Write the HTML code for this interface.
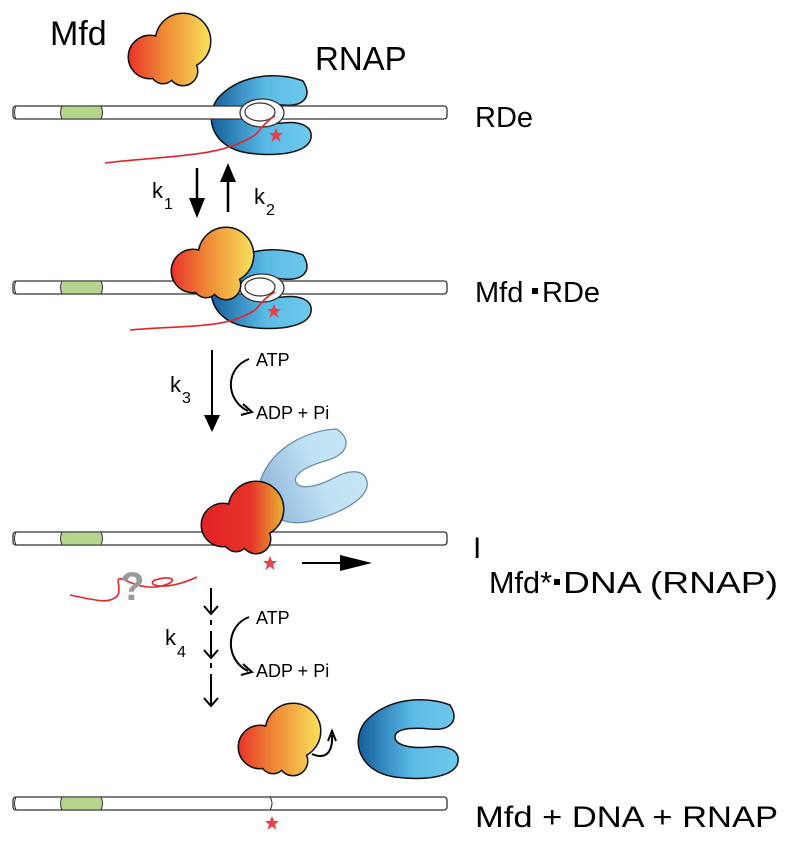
<!DOCTYPE html>
<html><head><meta charset="utf-8"><style>
body{margin:0;background:#fff}
svg{display:block}
text{font-family:"Liberation Sans",Arial,sans-serif;fill:#000}
</style></head><body>
<svg width="800" height="845" viewBox="0 0 800 845" xmlns="http://www.w3.org/2000/svg">
<defs>
<linearGradient id="mfd" gradientUnits="userSpaceOnUse" x1="0" x2="82" y1="0" y2="0"><stop offset="0" stop-color="#e8322a"/><stop offset="0.45" stop-color="#ef8a36"/><stop offset="1" stop-color="#f9e05a"/></linearGradient>
<linearGradient id="mfdr" gradientUnits="userSpaceOnUse" x1="0" x2="82" y1="0" y2="0"><stop offset="0" stop-color="#e32224"/><stop offset="0.6" stop-color="#e5332a"/><stop offset="1" stop-color="#e8b030"/></linearGradient>
<linearGradient id="rnap" x1="0" x2="1"><stop offset="0" stop-color="#145f9c"/><stop offset="0.55" stop-color="#5bbbe6"/><stop offset="1" stop-color="#70c8ec"/></linearGradient>
<linearGradient id="rnapl" x1="0" x2="1"><stop offset="0" stop-color="#8fb6d8"/><stop offset="0.6" stop-color="#bfe2f4"/><stop offset="1" stop-color="#c6e6f6"/></linearGradient>
<g id="mfdc">
<circle cx="55" cy="28" r="27"/><circle cx="22" cy="44" r="21"/><circle cx="55" cy="58" r="14"/><circle cx="35" cy="58" r="12"/>
</g>
<path id="rnapp" d="M100 8 C80 0 40 -2 15 25 C0 45 10 75 45 80 C75 84 105 80 108 65 C110 52 95 48 80 50 C60 52 45 48 45 40 C45 32 60 30 80 32 C100 34 110 24 100 8 Z"/>
<g id="dna"><rect x="13" y="0" width="434" height="13" rx="3" fill="#fff" stroke="#333" stroke-width="1.3"/><path d="M62 0 Q59 6.5 62 13 L101 13 Q104 6.5 101 0 Z" fill="#b5d58c" stroke="#333" stroke-width="1"/><path d="M16 0 Q13 6.5 16 13" fill="none" stroke="#333"/></g>
<path id="star" d="M0 -7 L2 -2 L7 -2 L3 1.5 L4.5 7 L0 3.5 L-4.5 7 L-3 1.5 L-7 -2 L-2 -2 Z" fill="#e5424a"/>
<g id="mfdo"><use href="#mfdc" fill="url(#mfd)" stroke="#111" stroke-width="3"/><use href="#mfdc" fill="url(#mfd)"/></g>
<g id="mfdro"><use href="#mfdc" fill="url(#mfdr)" stroke="#111" stroke-width="3"/><use href="#mfdc" fill="url(#mfdr)"/></g>
</defs>

<!-- row 1 -->
<text x="50" y="45" font-size="34">Mfd</text>
<use href="#mfdo" transform="translate(128,13)"/>
<text x="315" y="70" font-size="33">RNAP</text>
<use href="#rnapp" transform="translate(203,73)" fill="url(#rnap)" stroke="#111" stroke-width="1.5"/>
<use href="#dna" transform="translate(0,106)"/>
<ellipse cx="262" cy="113" rx="22" ry="14" fill="#fff" stroke="#333" stroke-width="1.3"/>
<ellipse cx="260" cy="112" rx="15" ry="9" fill="#fff" stroke="#333" stroke-width="1.2"/>
<path d="M105 163 C170 155 220 158 255 135 C262 128 265 122 275 116" fill="none" stroke="#e5242a" stroke-width="1.6"/>
<use href="#star" transform="translate(276,135)"/>
<text x="475" y="127" font-size="29">RDe</text>

<line x1="197" y1="168" x2="197" y2="200" stroke="#000" stroke-width="2.5"/><path d="M189 198 L205 198 L197 218 Z"/>
<line x1="228" y1="212" x2="228" y2="180" stroke="#000" stroke-width="2.5"/><path d="M220 182 L236 182 L228 163 Z"/>
<text x="152" y="198" font-size="22">k</text><text x="164" y="209" font-size="16">1</text>
<text x="254" y="204" font-size="22">k</text><text x="266" y="215" font-size="16">2</text>

<!-- row 2 -->
<use href="#rnapp" transform="translate(203,247)" fill="url(#rnap)" stroke="#111" stroke-width="1.5"/>
<use href="#dna" transform="translate(0,281)"/>
<ellipse cx="262" cy="288" rx="22" ry="14" fill="#fff" stroke="#333" stroke-width="1.3"/>
<ellipse cx="260" cy="287" rx="15" ry="9" fill="#fff" stroke="#333" stroke-width="1.2"/>
<use href="#mfdo" transform="translate(171,227)"/>
<path d="M130 330 C180 325 225 330 255 310 C262 303 265 297 275 292" fill="none" stroke="#e5242a" stroke-width="1.6"/>
<use href="#star" transform="translate(274,311)"/>
<text x="475" y="302" font-size="29">Mfd</text><rect x="532" y="288" width="6" height="6" fill="#000"/><text x="542" y="302" font-size="29">RDe</text>

<!-- k3 -->
<line x1="212" y1="350" x2="212" y2="418" stroke="#000" stroke-width="2"/><path d="M204 415 L220 415 L212 432 Z"/>
<text x="170" y="392" font-size="22">k</text><text x="182" y="403" font-size="16">3</text>
<path d="M249 359 C225 368 225 400 248 411" fill="none" stroke="#000" stroke-width="2"/><path d="M243 404 L252 412 L241 415" fill="none" stroke="#000" stroke-width="2"/>
<text x="256" y="366" font-size="18">ATP</text><text x="256" y="419" font-size="18">ADP + Pi</text>

<!-- row 3 -->
<use href="#dna" transform="translate(0,532)"/>
<use href="#rnapp" transform="translate(306,479) rotate(-22) scale(1.05) translate(-55,-41)" fill="url(#rnapl)" stroke="#6a8aa8" stroke-width="1.2"/>
<use href="#mfdro" transform="translate(201,481)"/>
<use href="#star" transform="translate(270,563)"/>
<line x1="302" y1="563" x2="345" y2="563" stroke="#000" stroke-width="2"/><path d="M340 555 L372 563 L340 571 Z"/>
<path d="M70 595 C95 600 110 605 118 595 C122 585 112 575 125 580 C135 585 150 590 165 585 C180 580 170 575 155 580 C145 585 165 592 197 577" fill="none" stroke="#e5242a" stroke-width="1.6"/>
<text x="120" y="600" font-size="40" font-weight="bold" style="fill:#9a9a9a">?</text>
<text x="473" y="558" font-size="30">I</text>
<text x="489" y="593" font-size="31" textLength="63" lengthAdjust="spacingAndGlyphs">Mfd*</text><rect x="554" y="579" width="6" height="6" fill="#000"/><text x="563" y="593" font-size="31" textLength="215" lengthAdjust="spacingAndGlyphs">DNA (RNAP)</text>

<!-- k4 -->
<g stroke="#000" stroke-width="2" fill="none">
<line x1="211" y1="588" x2="211" y2="612"/><path d="M204 606 L211 614 L218 606"/>
<line x1="211" y1="620" x2="211" y2="625"/>
<line x1="211" y1="631" x2="211" y2="657"/><path d="M204 650 L211 658 L218 650"/>
<line x1="211" y1="663" x2="211" y2="668"/>
<line x1="211" y1="674" x2="211" y2="706"/><path d="M204 698 L211 706 L218 698"/>
<path d="M249 617 C225 626 225 660 248 671"/><path d="M243 664 L252 672 L241 675"/>
<path d="M312 754 C326 760 333 752 332 735"/><path d="M328 741 L332 731 L336 741"/>
</g>
<text x="165" y="645" font-size="22">k</text><text x="177" y="657" font-size="16">4</text>
<text x="256" y="624" font-size="18">ATP</text><text x="256" y="677" font-size="18">ADP + Pi</text>

<!-- row 4 -->
<use href="#mfdo" transform="translate(238,703)"/>
<use href="#rnapp" transform="translate(350,697)" fill="url(#rnap)" stroke="#111" stroke-width="1.5"/>
<use href="#dna" transform="translate(0,797)"/>
<path d="M270 797 Q274 803.5 270 810" fill="none" stroke="#333"/>
<use href="#star" transform="translate(272,823)"/>
<text x="475" y="827" font-size="30" textLength="303" lengthAdjust="spacingAndGlyphs">Mfd + DNA + RNAP</text>
</svg>
</body></html>
